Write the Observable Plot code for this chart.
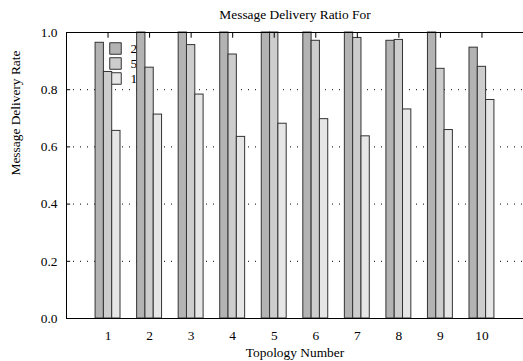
<!DOCTYPE html>
<html>
<head>
<meta charset="utf-8">
<script src="https://cdn.jsdelivr.net/npm/d3@7"></script>
<script src="https://cdn.jsdelivr.net/npm/@observablehq/plot@0.6"></script>
<style>
  html, body { margin: 0; padding: 0; background: #fff; }
  #chart svg { display: block; }
</style>
</head>
<body>
<div id="chart"></div>
<script>
const topologies = [1, 2, 3, 4, 5, 6, 7, 8, 9, 10];
const seriesLabels = ["2", "5", "1"];
const seriesColors = ["#b3b3b3", "#cdcdcd", "#e6e6e6"];
const valuesA = [0.964, 1.0, 1.0, 1.0, 1.0, 1.0, 1.0, 0.971, 1.0, 0.947];
const valuesB = [0.862, 0.877, 0.956, 0.923, 1.0, 0.971, 0.981, 0.974, 0.873, 0.880];
const valuesC = [0.656, 0.713, 0.783, 0.635, 0.681, 0.697, 0.637, 0.731, 0.659, 0.764];
const yTicks = [0, 0.2, 0.4, 0.6, 0.8, 1.0];
const gridTicks = [0.2, 0.4, 0.6, 0.8];

const seriesValues = [valuesA, valuesB, valuesC];
const rows = [];
seriesValues.forEach((vals, s) => {
  vals.forEach((v, i) => rows.push({t: topologies[i], s, v}));
});

const font = "'Liberation Serif', 'DejaVu Serif', serif";
const fs = 13.4;
const barW = 0.2;

const legendMarks = seriesLabels.flatMap((lab, k) => [
  Plot.dot([lab], {frameAnchor: "top-left", dx: 49, dy: 16 + 15 * k, symbol: "square", r: 6.5,
    fill: seriesColors[k], stroke: "#333", strokeWidth: 1}),
  Plot.text([lab], {frameAnchor: "top-left", dx: 64, dy: 16 + 15 * k, text: d => d,
    textAnchor: "start", lineAnchor: "middle", fontSize: fs, fill: "#000"})
]);

const chart = Plot.plot({
  width: 523,
  height: 361,
  marginLeft: 66,
  marginRight: 0,
  marginTop: 32,
  marginBottom: 43,
  style: {fontFamily: font, fontSize: fs + "px", background: "#fff", color: "#000"},
  x: {domain: [0, 11], axis: null},
  y: {domain: [0, 1], axis: null},
  marks: [
    Plot.ruleY(gridTicks, {stroke: "#000", strokeWidth: 1, strokeDasharray: "1,6"}),
    Plot.ruleY(gridTicks, {x1: 0, x2: 0.1, stroke: "#000", strokeWidth: 1}),
    ...legendMarks,
    Plot.rect(rows, {
      x1: d => d.t - 0.3 + barW * d.s,
      x2: d => d.t - 0.1 + barW * d.s,
      y1: 0,
      y2: "v",
      fill: d => seriesColors[d.s],
      stroke: "#333",
      strokeWidth: 1
    }),
    Plot.ruleX([0], {y1: 0, y2: 1, stroke: "#000", strokeWidth: 1}),
    Plot.ruleY([0], {stroke: "#000", strokeWidth: 1.2}),
    Plot.ruleY([1], {stroke: "#000", strokeWidth: 1}),
    Plot.ruleX(topologies, {y1: 1, y2: 0.98, stroke: "#000", strokeWidth: 1}),
    Plot.axisY(yTicks, {tickSize: 0, tickPadding: 9, tickFormat: d3.format(".1f"), fontSize: fs, label: null}),
    Plot.axisX(topologies, {tickSize: 0, tickPadding: 12, fontSize: fs, label: null}),
    Plot.text(["Topology Number"], {frameAnchor: "bottom", dy: 34, lineAnchor: "middle", fontSize: fs, fill: "#000"}),
    Plot.text(["Message Delivery Rate"], {frameAnchor: "left", dx: -51, rotate: -90, lineAnchor: "middle", fontSize: fs, fill: "#000"}),
    Plot.text(["Message Delivery Ratio For"], {frameAnchor: "top", dy: -18, lineAnchor: "middle", fontSize: fs, fill: "#000"})
  ]
});
document.getElementById("chart").appendChild(chart);
</script>
</body>
</html>
